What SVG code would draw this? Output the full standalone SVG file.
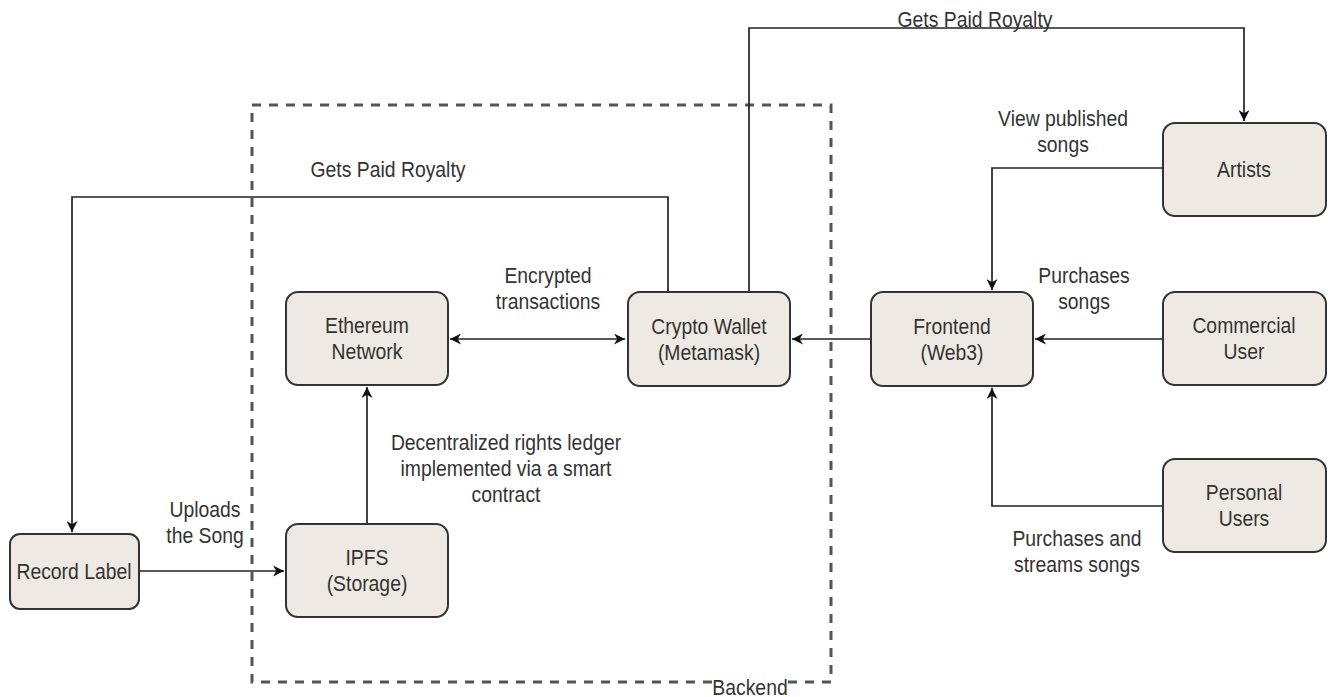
<svg xmlns="http://www.w3.org/2000/svg" width="1328" height="697" viewBox="0 0 1328 697">
<defs>
<style>
.n rect{fill:#EEEAE3;stroke:#333;stroke-width:2}
text{font-family:"Liberation Sans",Arial,sans-serif;font-size:22px;fill:#333;text-anchor:middle}
.c path{fill:none;stroke:#222;stroke-width:1.7}
.g{fill:none;stroke:#555;stroke-width:3;stroke-dasharray:9 8}
</style>
<marker id="a" viewBox="0 0 10 10" refX="10" refY="5" markerWidth="11" markerHeight="11" markerUnits="userSpaceOnUse" orient="auto-start-reverse"><path d="M0,0 L10,5 L0,10 L3,5 Z" fill="#111"/></marker>
</defs>
<rect width="1328" height="697" fill="#fff"/>
<g id="backend">
<rect class="g" x="252" y="105" width="579" height="577"/>
<rect x="714" y="678" width="72" height="19" fill="#fff"/>
<text transform="translate(750 695) scale(.88 1)">Backend</text>
</g>
<g class="c" id="connectors">
<path d="M749,292 V28 H1244 V121" marker-end="url(#a)"/>
<path d="M668,292 V197 H72 V532" marker-end="url(#a)"/>
<path d="M450,339 H625" marker-start="url(#a)" marker-end="url(#a)"/>
<path d="M871,339 H792" marker-end="url(#a)"/>
<path d="M1163,339 H1035" marker-end="url(#a)"/>
<path d="M1163,168 H992 V290" marker-end="url(#a)"/>
<path d="M1163,506 H992 V388" marker-end="url(#a)"/>
<path d="M367,524 V387" marker-end="url(#a)"/>
<path d="M139,571 H284" marker-end="url(#a)"/>
</g>
<g id="labels">
<text transform="translate(975 27) scale(.88 1)">Gets Paid Royalty</text>
<text transform="translate(388 177) scale(.88 1)">Gets Paid Royalty</text>
<text transform="translate(1063 126) scale(.88 1)">View published</text>
<text transform="translate(1063 152) scale(.88 1)">songs</text>
<text transform="translate(548 283) scale(.88 1)">Encrypted</text>
<text transform="translate(548 309) scale(.88 1)">transactions</text>
<text transform="translate(1084 283) scale(.88 1)">Purchases</text>
<text transform="translate(1084 309) scale(.88 1)">songs</text>
<text transform="translate(506 450) scale(.88 1)">Decentralized rights ledger</text>
<text transform="translate(506 476) scale(.88 1)">implemented via a smart</text>
<text transform="translate(506 502) scale(.88 1)">contract</text>
<text transform="translate(205 517) scale(.88 1)">Uploads</text>
<text transform="translate(205 543) scale(.88 1)">the Song</text>
<text transform="translate(1077 546) scale(.88 1)">Purchases and</text>
<text transform="translate(1077 572) scale(.88 1)">streams songs</text>
</g>
<g class="n" id="record-label"><rect x="10" y="534" width="129" height="75" rx="10"/><text transform="translate(74 579) scale(.88 1)">Record Label</text></g>
<g class="n" id="ipfs"><rect x="286" y="524" width="162" height="93" rx="12"/><text transform="translate(367 565) scale(.88 1)">IPFS</text><text transform="translate(367 591) scale(.88 1)">(Storage)</text></g>
<g class="n" id="ethereum"><rect x="286" y="292" width="162" height="93" rx="12"/><text transform="translate(367 333) scale(.88 1)">Ethereum</text><text transform="translate(367 359) scale(.88 1)">Network</text></g>
<g class="n" id="wallet"><rect x="628" y="292" width="162" height="94" rx="12"/><text transform="translate(709 334) scale(.88 1)">Crypto Wallet</text><text transform="translate(709 360) scale(.88 1)">(Metamask)</text></g>
<g class="n" id="frontend"><rect x="871" y="292" width="162" height="94" rx="12"/><text transform="translate(952 334) scale(.88 1)">Frontend</text><text transform="translate(952 360) scale(.88 1)">(Web3)</text></g>
<g class="n" id="artists"><rect x="1163" y="123" width="163" height="93" rx="12"/><text transform="translate(1244 177) scale(.88 1)">Artists</text></g>
<g class="n" id="commercial"><rect x="1163" y="292" width="163" height="93" rx="12"/><text transform="translate(1244 333) scale(.88 1)">Commercial</text><text transform="translate(1244 359) scale(.88 1)">User</text></g>
<g class="n" id="personal"><rect x="1163" y="459" width="163" height="93" rx="12"/><text transform="translate(1244 500) scale(.88 1)">Personal</text><text transform="translate(1244 526) scale(.88 1)">Users</text></g>
</svg>
